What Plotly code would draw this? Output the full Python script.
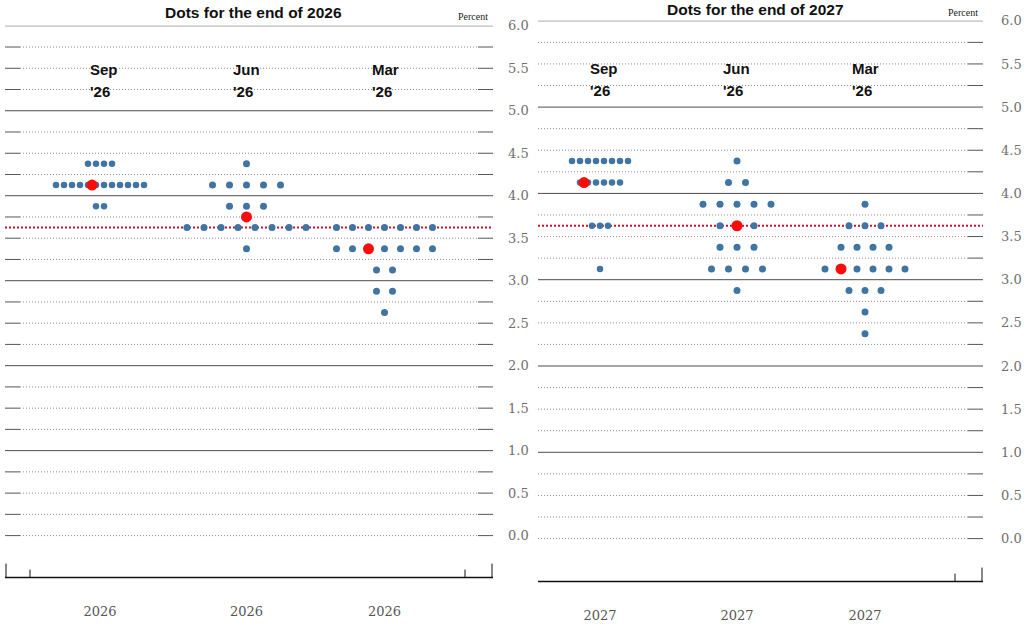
import numpy as np
import plotly.graph_objects as go

# rate levels shared by every column (top to bottom)
RATE_LEVELS = [4.375, 4.125, 3.875, 3.625, 3.375, 3.125, 2.875, 2.625, 2.375]
VINTAGES = ["Sep", "Jun", "Mar"]
VINTAGE_YEAR = "'26"

# number of dots at each rate level, end of 2026
END_2026_SEP = [4, 12, 2, 0, 0, 0, 0, 0, 0]
END_2026_JUN = [1, 5, 3, 8, 1, 0, 0, 0, 0]
END_2026_MAR = [0, 0, 0, 7, 7, 2, 2, 1, 0]
MEDIAN_2026 = [4.125, 3.75, 3.375]

# end of 2027
END_2027_SEP = [8, 6, 0, 3, 0, 1, 0, 0, 0]
END_2027_JUN = [1, 2, 5, 3, 3, 4, 1, 0, 0]
END_2027_MAR = [0, 0, 1, 3, 4, 6, 3, 1, 1]
MEDIAN_2027 = [4.125, 3.625, 3.125]

CURRENT_RATE = 3.625
Y_TICKS = [0.0, 0.5, 1.0, 1.5, 2.0, 2.5, 3.0, 3.5, 4.0, 4.5, 5.0, 5.5, 6.0]

W, H = 1027, 630
BLUE = "#3f74a3"
RED = "#ff0a0a"


def fx(p):
    return p / W


def fy(p):
    # small correction: the page comes out a touch squashed near the top
    p = p - 6 * (577 - p) / 552
    return 1 - p / H


panels = [
    dict(year="2026", counts=[END_2026_SEP, END_2026_JUN, END_2026_MAR], medians=MEDIAN_2026,
         left=5, right=493, top=25, zero=535, bottom=577, centers=[95, 241.5, 379.5],
         shift=[-1, 0, -1], left_dash=True, ticks=[(1, 14), (25, 8), (460, 8), (487, 14)],
         title_x=253, title_y=12, pct_y=16, standoff=14, label_y=(69, 91)),
    dict(year="2027", counts=[END_2027_SEP, END_2027_JUN, END_2027_MAR], medians=MEDIAN_2027,
         left=538, right=983, top=20, zero=538, bottom=581, centers=[62, 199, 327],
         shift=[-2, 0, -1.5], left_dash=False, ticks=[(417, 8), (444, 14)],
         title_x=755, title_y=9, pct_y=12, standoff=17, label_y=(68, 90)),
]
spacing = [8, 17, 16]
dot_size = [6.5, 7, 7]
label_shift = [-12, -16, -15]

fig = go.Figure()
shapes = []
annotations = []
grid_levels = np.arange(0, 6.001, 0.25)

for k, p in enumerate(panels):
    sfx = "" if k == 0 else str(k + 1)
    xa, ya = "x" + sfx, "y" + sfx
    pw = p["right"] - p["left"]
    unit = (p["zero"] - p["top"]) / 6.0
    ymin = -(p["bottom"] - p["zero"]) / unit

    fig.layout["xaxis" + sfx] = dict(
        domain=[fx(p["left"]), fx(p["right"])], range=[0, pw], anchor=ya,
        showgrid=False, zeroline=False, showline=False, ticks="",
        tickvals=p["centers"], ticktext=[p["year"]] * 3, ticklabelstandoff=24,
        tickfont=dict(family="DejaVu Serif", size=13, color="#555555"), fixedrange=True)
    fig.layout["yaxis" + sfx] = dict(
        domain=[fy(p["bottom"]), fy(p["top"])], range=[ymin, 6.0], anchor=xa, side="right",
        showgrid=False, zeroline=False, showline=False, ticks="",
        tickvals=Y_TICKS, ticktext=[f"{v:.1f}" for v in Y_TICKS], ticklabelstandoff=p["standoff"],
        tickfont=dict(family="DejaVu Serif", size=13, color="#707070"), fixedrange=True)

    # horizontal rules: solid at whole percents, dotted elsewhere with solid ends
    for lv in grid_levels:
        if lv > 0 and abs(lv - round(lv)) < 1e-9:
            shapes.append(dict(type="line", xref=xa, yref=ya, x0=0, x1=pw, y0=lv, y1=lv,
                               line=dict(color="#4d4d4d", width=1), layer="below"))
        else:
            x0 = 15 if p["left_dash"] else 0
            shapes.append(dict(type="line", xref=xa, yref=ya, x0=x0, x1=pw - 15, y0=lv, y1=lv,
                               line=dict(color="#8c8c8c", width=1, dash="1px,2px"), layer="below"))
            shapes.append(dict(type="line", xref=xa, yref=ya, x0=pw - 15, x1=pw, y0=lv, y1=lv,
                               line=dict(color="#555555", width=1), layer="below"))
            if p["left_dash"]:
                shapes.append(dict(type="line", xref=xa, yref=ya, x0=0, x1=15, y0=lv, y1=lv,
                                   line=dict(color="#555555", width=1), layer="below"))

    # current rate
    shapes.append(dict(type="line", xref=xa, yref=ya, x0=0, x1=pw, y0=CURRENT_RATE, y1=CURRENT_RATE,
                       line=dict(color="#c41230", width=2, dash="2px,2px"), layer="below"))

    # bottom axis line and its ticks
    dom_h = p["bottom"] - p["top"]
    shapes.append(dict(type="line", xref=xa, yref=ya + " domain", x0=0, x1=pw, y0=0, y1=0,
                       line=dict(color="#111111", width=1.5)))
    for tx, tl in p["ticks"]:
        shapes.append(dict(type="line", xref=xa, yref=ya + " domain", x0=tx, x1=tx, y0=0, y1=tl / dom_h,
                           line=dict(color="#111111", width=1)))

    # dots
    for c, counts in enumerate(p["counts"]):
        xs, ys = [], []
        for rate, n in zip(RATE_LEVELS, counts):
            if n == 0:
                continue
            offs = (np.arange(n) - (n - 1) / 2) * spacing[c]
            xs.extend(p["centers"][c] + offs)
            ys.extend([rate] * n)
        fig.add_trace(go.Scatter(x=xs, y=ys, mode="markers", xaxis=xa, yaxis=ya,
                                 marker=dict(color=BLUE, size=dot_size[c], line=dict(width=0)),
                                 hoverinfo="y", showlegend=False))

    mx = [p["centers"][c] + p["shift"][c] * spacing[c] for c in range(3)]
    fig.add_trace(go.Scatter(x=mx, y=p["medians"], mode="markers", xaxis=xa, yaxis=ya,
                             marker=dict(color=RED, size=11, line=dict(width=0)),
                             hoverinfo="y", showlegend=False))

    # column labels
    for c, v in enumerate(VINTAGES):
        for txt, py in zip([v, VINTAGE_YEAR], p["label_y"]):
            annotations.append(dict(text=f"<b>{txt}</b>", xref=xa, yref="paper", x=p["centers"][c],
                                    y=fy(py), xanchor="left", yanchor="middle", xshift=label_shift[c],
                                    showarrow=False,
                                    font=dict(family="Liberation Sans", size=15, color="#111111")))

    annotations.append(dict(text=f"<b>Dots for the end of {p['year']}</b>", xref="paper", yref="paper",
                            x=fx(p["title_x"]), y=fy(p["title_y"]), xanchor="center", yanchor="middle",
                            showarrow=False, font=dict(family="Liberation Sans", size=15.5, color="#111111")))
    annotations.append(dict(text="Percent", xref="paper", yref="paper", x=fx(p["right"] - 3),
                            y=fy(p["pct_y"]), xanchor="right", yanchor="middle", showarrow=False,
                            font=dict(family="Liberation Serif", size=10, color="#222222")))

fig.update_layout(width=W, height=H, autosize=False, margin=dict(l=0, r=0, t=0, b=0),
                  paper_bgcolor="white", plot_bgcolor="white",
                  shapes=shapes, annotations=annotations)

# the page's default body margin would push the fixed-size figure off the window
fig.write_html("out.html", config={"displayModeBar": False},
               post_script="document.body.style.margin='0';document.body.style.overflow='hidden';")
